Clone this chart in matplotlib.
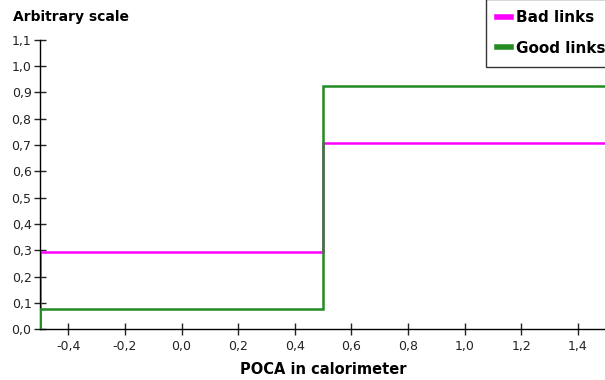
import matplotlib.pyplot as plt
from matplotlib.lines import Line2D
from matplotlib.ticker import FuncFormatter

# histogram data (two bins)
bin_edges = [-0.5, 0.5, 1.5]
bad_links = [0.293, 0.708]
good_links = [0.076, 0.925]

x_ticks = [-0.4, -0.2, 0.0, 0.2, 0.4, 0.6, 0.8, 1.0, 1.2, 1.4]
y_ticks = [0.0, 0.1, 0.2, 0.3, 0.4, 0.5, 0.6, 0.7, 0.8, 0.9, 1.0, 1.1]

magenta = '#ff00ff'
green = '#228b22'

fig = plt.figure(figsize=(6.05, 3.8), dpi=100)
ax = fig.add_axes([0.066, 0.134, 0.936, 0.761])

ax.stairs(bad_links, bin_edges, baseline=0, color=magenta, linewidth=1.8, zorder=2)
ax.stairs(good_links, bin_edges, baseline=0, color=green, linewidth=1.8, zorder=3)

ax.set_xlim(-0.5, 1.5)
ax.set_ylim(0, 1.1)
ax.set_xticks(x_ticks)
ax.set_yticks(y_ticks)

comma = FuncFormatter(lambda v, p: f'{v:.1f}'.replace('.', ',').replace('-0,0', '0,0'))
ax.xaxis.set_major_formatter(comma)
ax.yaxis.set_major_formatter(comma)

for side in ['top', 'right']:
    ax.spines[side].set_visible(False)
ax.spines['left'].set_linewidth(1.0)
ax.spines['bottom'].set_linewidth(1.0)
ax.tick_params(direction='inout', length=8, width=1, labelsize=9, colors='#222222', pad=2)
ax.tick_params(axis='x', pad=4)

ax.set_xlabel('POCA in calorimeter', fontsize=10.5, fontweight='bold', labelpad=6)
fig.text(0.022, 0.955, 'Arbitrary scale', fontsize=10, fontweight='bold', va='center')

handles = [Line2D([], [], color=magenta, lw=4), Line2D([], [], color=green, lw=4)]
leg = fig.legend(handles, ['Bad links', 'Good links'], loc='upper left',
                 bbox_to_anchor=(0.803, 1.003), frameon=True, fancybox=False,
                 edgecolor='black', handlelength=0.9, handletextpad=0.3,
                 borderpad=0.75, labelspacing=1.0, borderaxespad=0,
                 prop={'size': 11, 'weight': 'bold'})
leg.get_frame().set_linewidth(1.0)

plt.savefig('out.png', dpi=100)
plt.close()
